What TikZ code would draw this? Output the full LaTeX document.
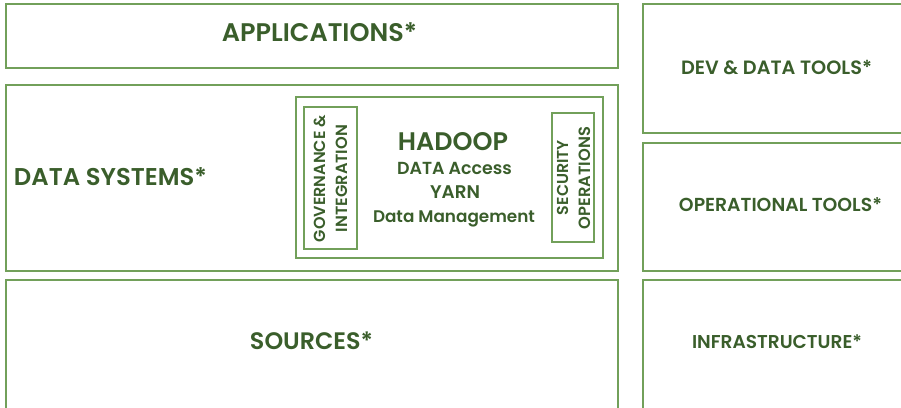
\documentclass[tikz,border=0pt]{standalone}
\usepackage{fontspec}
\usepackage{graphicx}
\setmainfont{Poppins}[UprightFont=* SemiBold]
\definecolor{txt}{HTML}{3A5E2B}
\definecolor{brd}{HTML}{72A05A}
\newcommand{\fitw}[2]{\resizebox{#1pt}{!}{#2}}
\begin{document}
\begin{tikzpicture}[x=1pt,y=-1pt,
  box/.style={draw=brd,line width=1.4pt},
  inbox/.style={draw=brd,line width=1.1pt},
  lbl/.style={text=txt,inner sep=0pt,anchor=base}]
\path[use as bounding box] (0,0) rectangle (901,407);
\begin{scope}
\clip (0,0) rectangle (901,407);
\draw[box] (6,4) rectangle (618,68);
\draw[box] (6,85) rectangle (618,271);
\draw[box] (6,280) rectangle (618,420);
\draw[box] (643,4) rectangle (910,133);
\draw[box] (643,143) rectangle (910,271);
\draw[box] (643,280) rectangle (910,420);
\draw[inbox] (296,97) rectangle (603,258);
\draw[inbox] (304,107) rectangle (357,249);
\draw[inbox] (552,113) rectangle (594,242);
\end{scope}
\node[lbl] (app) at (319.5,41) {\fitw{195}{APPLICATIONS*}};
\node[lbl] (ds) at (110.5,185) {\fitw{193}{DATA SYSTEMS*}};
\node[lbl] (src) at (311.5,349) {\fitw{123}{SOURCES*}};
\node[lbl] (dev) at (776.5,74) {\fitw{191}{DEV \& DATA TOOLS*}};
\node[lbl] (ops) at (780.5,211) {\fitw{203}{OPERATIONAL TOOLS*}};
\node[lbl] (inf) at (777,348) {\fitw{170}{INFRASTRUCTURE*}};
\node[lbl] (had) at (453,150) {\fitw{110}{HADOOP}};
\node[lbl] (acc) at (454.5,174) {\fitw{115}{DATA Access}};
\node[lbl] (yarn) at (455,198) {\fitw{50}{YARN}};
\node[lbl] (mgmt) at (454,222) {\fitw{162}{Data Management}};
\node[lbl,rotate=90] (gov1) at (325,178.5) {\fitw{127}{GOVERNANCE \&}};
\node[lbl,rotate=90] (gov2) at (347,178.5) {\fitw{107}{INTEGRATION}};
\node[lbl,rotate=90] (sec1) at (568,177.5) {\fitw{75}{SECURITY}};
\node[lbl,rotate=90] (sec2) at (590,178) {\fitw{102}{OPERATIONS}};
\end{tikzpicture}
\end{document}
